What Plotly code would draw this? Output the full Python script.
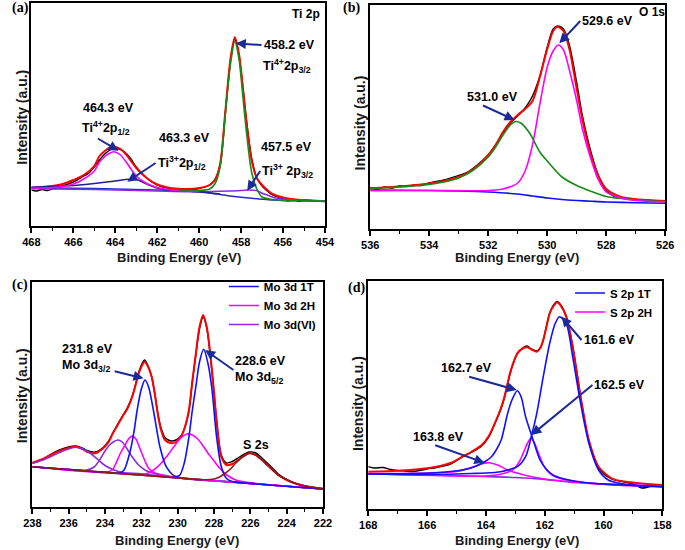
import plotly.graph_objects as go

# ======================= DATA (binding energy in eV, intensity in a.u.) =======================
# ---- (a) Ti 2p ----
a_exp_E = [468, 467.75, 467.5, 467.25, 467, 466.5, 466, 465.5, 465.25, 465, 464.75, 464.5, 464.25, 464.1, 463.9,
           463.75, 463.5, 463.25, 463, 462.75, 462.5, 462.25, 462, 461.5, 461, 460.5, 460, 459.5, 459.25, 459,
           458.75, 458.5, 458.3, 458.1, 457.9, 457.75, 457.5, 457.25, 457, 456.75, 456.5, 456, 455.75, 455.5,
           455.25, 455, 454.5, 454]
a_exp_I = [36, 35, 36.5, 35.5, 37, 40, 44, 50, 53, 59, 66, 72, 76, 77.7, 77, 76.5, 73, 67, 59, 53, 48, 44, 41, 38,
           37, 36.5, 37.5, 41, 46, 61, 113, 166, 186.7, 170, 136, 107, 68, 48, 40, 35, 31, 27, 25, 26.5, 24.5, 26,
           25, 24.5]
a_fit_E = [468, 467, 466.5, 466, 465.5, 465, 464.75, 464.5, 464.25, 464.05, 463.75, 463.5, 463.25, 463, 462.5, 462,
           461.5, 461, 460.5, 460, 459.5, 459.25, 459, 458.75, 458.5, 458.3, 458.1, 457.9, 457.75, 457.5, 457.25,
           457, 456.75, 456.5, 456, 455.5, 455, 454.5, 454]
a_fit_I = [38, 40, 42, 46, 51, 60, 70, 75, 78.5, 79.3, 77, 72, 65, 58, 48, 41.5, 38.5, 37.3, 37, 38, 41, 46, 62, 115,
           168, 188.7, 172, 135, 105, 66, 48, 41, 36, 32, 28.5, 26.7, 25.8, 25.3, 25]
a_bg_E = [468, 466, 464, 462, 461, 460, 459.5, 459, 458.5, 458, 457.5, 457, 456.5, 456, 455, 454]
a_bg_I = [38.5, 37.8, 37, 36, 35.3, 34, 33, 31.5, 30, 28.8, 27.7, 26.8, 26, 25.6, 25.2, 25]
a_ti3_32_E = [468, 466, 464, 462, 460.5, 459.5, 458.5, 458, 457.6, 457.2, 457, 456.7, 456.4, 456, 455, 454]
a_ti3_32_I = [37.3, 36.8, 36, 35, 34.3, 34.5, 35, 35.5, 36, 35, 32.7, 30.5, 28.3, 26.8, 25.6, 25.3]
a_ti3_12_E = [468, 467, 466, 465, 464, 463.5, 463.2, 463, 462.75, 462.5, 462, 461.5, 461, 460, 459]
a_ti3_12_I = [38.7, 39.5, 40.5, 42.5, 45, 46.5, 47, 46.5, 44.5, 42, 38, 36, 35.3, 34.2, 32]
a_ti4_12_E = [468, 467, 466.5, 466, 465.5, 465, 464.75, 464.5, 464.25, 464.05, 463.75, 463.5, 463.25, 463, 462.5,
              462, 461.5, 461, 460]
a_ti4_12_I = [38, 38.5, 39.5, 42, 47, 55, 64, 69.5, 73, 74.3, 71, 64.5, 57, 50, 42.5, 38.5, 36.5, 35.5, 34.5]
a_ti4_32_E = [461, 460, 459.5, 459.25, 459, 458.75, 458.5, 458.3, 458.1, 457.9, 457.75, 457.5, 457.25, 457, 456.5,
              456, 455, 454]
a_ti4_32_I = [35, 35.5, 37, 42, 59, 112, 163, 184.3, 167, 126, 95, 54, 37, 29, 26.5, 25.5, 25.2, 25]

# ---- (b) O 1s ----
b_exp_E = [536, 535.75, 535.5, 535.25, 535, 534.75, 534.5, 534.25, 534, 533.5, 533, 532.75, 532.5, 532, 531.75,
           531.5, 531.25, 531, 530.75, 530.5, 530.25, 530, 529.8, 529.65, 529.45, 529.25, 529, 528.8, 528.5,
           528.25, 528, 527.75, 527.5, 527, 526.5, 526]
b_exp_I = [41.5, 40, 42, 41, 43, 42.5, 44, 43.5, 46, 49, 53.5, 56, 61, 74, 84, 96, 106, 113, 121, 133, 153, 182,
           200, 203, 200, 184, 146, 112, 75, 52, 38, 33, 31, 29.5, 28.5, 28]
b_fit_E = [536, 535, 534, 533.5, 533, 532.5, 532, 531.75, 531.5, 531.25, 531, 530.75, 530.5, 530.25, 530, 529.8,
           529.65, 529.45, 529.25, 529, 528.8, 528.5, 528.25, 528, 527.5, 527, 526]
b_fit_I = [40.7, 42.5, 45.5, 48, 52, 60, 74, 84, 97, 107, 114, 120, 128, 152, 180, 198, 202.3, 198, 180, 140, 108,
           72, 52, 40, 32, 29.7, 28]
b_bg_E = [536, 534, 533, 532, 531, 530.5, 530, 529.5, 529, 528.5, 528, 527, 526]
b_bg_I = [39, 38.5, 38, 37, 35, 33, 31, 29.5, 28.5, 27.7, 27, 26.3, 25.7]
b_531_E = [536, 535, 534, 533.5, 533, 532.5, 532, 531.75, 531.5, 531.25, 531.1, 530.9, 530.6, 530.25, 530, 529.5,
           529, 528.5, 528, 527, 526]
b_531_I = [40.5, 42, 44.5, 47, 51, 59, 72, 82, 94, 104, 107.3, 106, 96, 77, 68, 52, 43.5, 37.5, 32.5, 29, 27.3]
b_529_E = [536, 534, 532, 531.5, 531, 530.75, 530.5, 530.25, 530, 529.8, 529.63, 529.45, 529.25, 529, 528.8, 528.5,
           528.25, 528, 527.5, 527, 526]
b_529_I = [38.3, 38.5, 38.5, 40, 46, 58, 84, 125, 162, 178, 184, 179, 159, 128, 99, 68, 48, 37, 31, 28.5, 27.3]

# ---- (c) Mo 3d ----
c_exp_E = [238, 237.5, 237, 236.5, 236, 235.6, 235.2, 235, 234.55, 234.1, 233.8, 233.57, 233.3, 233.04, 232.75,
           232.5, 232.3, 232.14, 231.95, 231.82, 231.65, 231.43, 231.25, 231.07, 230.9, 230.7, 230.36, 230.1,
           229.82, 229.6, 229.38, 229.2, 229.0, 228.8, 228.6, 228.4, 228.21, 228.0, 227.86, 227.6, 227.32, 227.0,
           226.6, 226.07, 225.7, 225.36, 224.9, 224.46, 224, 223.57, 223, 222]
c_exp_I = [44, 47, 52.5, 57, 60, 61, 58.5, 56.5, 55, 59.5, 66, 74, 83, 91, 100, 111, 124, 135, 144, 147, 142, 130,
           112, 91, 78, 69.5, 66, 67, 71, 80, 96, 124, 152, 178, 190, 179, 152, 114, 86, 52, 44, 45.5, 50, 55, 54,
           49, 41, 33, 27.5, 24, 21, 18.5]
c_fit_E = c_exp_E
c_fit_I = [44.3, 47.5, 52, 56, 59, 60.3, 57.5, 55.3, 53.7, 58.7, 65, 73.7, 82, 90.3, 99, 110.3, 123, 133.7, 142,
           145.3, 141, 130.3, 112, 90.3, 76, 67, 63.7, 65, 70.3, 80, 97, 125, 153.7, 180, 192, 180, 153.7, 115, 87,
           50.3, 42, 43, 48, 53.7, 52, 47, 39.5, 32, 27, 23.7, 21, 18]
c_bg_E = [238, 234, 230, 226, 222]
c_bg_I = [40.3, 34.7, 29.1, 23.6, 18]
c_1T_E = [238, 234, 233.2, 232.95, 232.6, 232.4, 232.23, 232.0, 231.8, 231.6, 231.34, 231.15, 230.98, 230.63,
          230.18, 229.9, 229.64, 229.38, 229.2, 229.0, 228.8, 228.57, 228.35, 228.13, 227.86, 227.6, 227.32, 227,
          226, 222]
c_1T_I = [40.3, 34.7, 34, 37, 57, 76, 97, 118, 127, 120, 97, 77, 60.3, 40.3, 31, 31.5, 43.7, 70.3, 96, 120.3, 145,
          157.7, 145, 120.3, 70.3, 40.3, 28.7, 25.5, 23.6, 18]
c_2Ha_E = [238, 234, 233.6, 233.4, 233.2, 232.95, 232.7, 232.5, 232.3, 232.05, 231.8, 231.6, 231.3, 231.07, 230.5,
           230, 226, 222]
c_2Ha_I = [40.3, 34.8, 37, 43.7, 52, 60.3, 68, 71, 68, 57, 46, 38.7, 34.5, 33, 31, 29.3, 23.6, 18]
c_2Hb_E = [238, 232, 231.6, 231.25, 230.9, 230.5, 230.1, 229.8, 229.5, 229.2, 228.9, 228.6, 228.3, 228.0, 227.7,
           227.3, 226.8, 226, 222]
c_2Hb_I = [40.3, 32.5, 34, 38, 44, 53, 63, 69.5, 73, 72, 68, 61, 53, 46, 39, 32, 27, 24.2, 18]
c_VIa_E = [238, 237.5, 237, 236.5, 236, 235.6, 235.2, 234.8, 234.4, 234, 233.5, 233, 232, 230, 226, 222]
c_VIa_I = [43.7, 46.5, 50.3, 54.5, 58, 59.7, 58, 53.7, 47.5, 41.5, 37, 34.5, 33.2, 29.1, 23.6, 18]
c_VIb_E = [238, 236, 235, 234.6, 234.3, 234, 233.75, 233.5, 233.3, 233.05, 232.8, 232.5, 232.15, 231.8, 231.4, 230,
           226, 222]
c_VIb_I = [40.3, 37.6, 37, 40, 47, 56, 62, 65.5, 67, 65, 58.5, 50, 42, 37, 34, 29.1, 23.6, 18]
c_S2s_E = [238, 230, 228.6, 228, 227.7, 227.4, 227.1, 226.8, 226.4, 226, 225.7, 225.36, 225, 224.5, 224, 223.5,
           223, 222]
c_S2s_I = [40.3, 29.1, 27.3, 28, 30, 33.5, 38, 44, 50.5, 53.7, 52, 47, 40.5, 32.5, 27.5, 23.5, 21, 18]

# ---- (d) S 2p ----
d_exp_E = [168, 167.8, 167.5, 167.25, 167, 166.75, 166.5, 166.25, 166, 165.68, 165.2, 164.8, 164.5, 164.14, 163.9,
           163.7, 163.5, 163.37, 163.15, 162.93, 162.75, 162.6, 162.45, 162.27, 162.15, 162.05, 161.95, 161.83,
           161.7, 161.58, 161.45, 161.27, 161.05, 160.9, 160.78, 160.5, 160.17, 159.73, 159.3, 159, 158.7, 158.4,
           158]
d_exp_I = [42.3, 41, 41.5, 39.5, 38.5, 38, 37.5, 38.5, 40, 41.5, 45, 52, 56.5, 63, 72, 85, 99, 111, 138, 155, 161,
           163, 160, 158, 161, 169, 182, 196, 204, 207.5, 204, 193, 163, 135, 112, 68, 41, 30, 27, 25, 21, 22.5, 23]
d_fit_E = [168, 167, 166, 165.68, 165.2, 164.8, 164.5, 164.14, 163.9, 163.7, 163.5, 163.37, 163.15, 162.93, 162.75,
           162.6, 162.45, 162.27, 162.15, 162.05, 161.95, 161.83, 161.7, 161.58, 161.45, 161.27, 161.05, 160.9,
           160.78, 160.5, 160.17, 159.73, 159.3, 158.5, 158]
d_fit_I = [37.3, 38.2, 40.8, 42.3, 46, 52.3, 57, 64, 73, 85.7, 100, 112.3, 139, 155.7, 160.5, 161.7, 159.5, 157.3,
           161, 169, 181, 195.7, 203, 206.7, 203, 192.3, 162.3, 135, 112.3, 69, 42.3, 30.7, 27.5, 25, 24]
d_bg_E = [168, 166, 164, 163, 162, 161.5, 161, 160, 159, 158]
d_bg_I = [35, 34, 32.5, 31.5, 29.5, 28, 26.5, 25, 23.8, 23]
d_1Ta_E = [168, 166, 165, 164.5, 164, 163.5, 163.2, 162.93, 162.65, 162.43, 162.27, 162.05, 161.83, 161.65, 161.5,
           161.27, 161.05, 160.78, 160.5, 160.17, 159.84, 159.5, 159.07, 158.5, 158]
d_1Ta_I = [35, 34.5, 35, 35.5, 36, 37.3, 39.5, 42.3, 52.3, 75.7, 95.7, 132.3, 165.7, 185, 192.3, 185.7, 152.3,
           105.7, 65.7, 39, 29, 26, 24, 23, 22.3]
d_1Tb_E = [168, 166.5, 165.7, 165.2, 164.8, 164.5, 164.25, 164, 163.81, 163.65, 163.48, 163.26, 163.1, 162.93,
           162.8, 162.65, 162.43, 162.16, 161.95, 161.72, 161.4, 161.05, 160.5, 159.5, 158]
d_1Tb_I = [35, 35.5, 36.3, 37.5, 39, 41, 44, 48, 52.3, 59, 69, 95.7, 110, 118.3, 112, 92.3, 72.3, 49, 40, 34, 30.5,
           28.3, 26, 24.2, 22.3]
d_2Ha_E = [168, 164, 163.37, 163.1, 162.98, 162.85, 162.71, 162.6, 162.47, 162.35, 162.21, 162.08, 161.94, 161.75,
           161.5, 161, 160.5, 159.5, 158]
d_2Ha_I = [35.5, 33, 35.7, 39, 42.3, 48, 57.3, 65, 70.7, 66, 55.7, 46, 39, 34, 30.7, 27.5, 25.8, 23.8, 22.3]
d_2Hb_E = [168, 166, 165, 164.58, 164.3, 164.1, 163.87, 163.6, 163.26, 162.82, 162.4, 162, 161, 160, 158]
d_2Hb_I = [35.5, 36, 37.5, 40.7, 43.5, 45.5, 46.3, 44, 39, 35, 32, 30, 27, 25, 22.8]

x_ranges = {'a': [468, 454], 'b': [536, 526], 'c': [238, 222], 'd': [168, 158]}

# ======================= STYLE / LAYOUT =======================
W, H = 685, 550
SANS = 'Liberation Sans, Arial, sans-serif'
SERIF = 'Liberation Serif, Times New Roman, serif'
BLACK, RED, GREEN, MAG = '#000000', '#ff0000', '#168c16', '#ff00ff'
BLUE, NAVY, PURPLE, BROWN = '#1010ff', '#1f1f90', '#8a2be2', '#8b1a1a'
BGBLUE, ARROW = '#2a2ac8', '#1a2a9a'

# frame boxes in pixels: left, right, top, bottom
PANELS = {
    'a': dict(n='', L=23, R=325, T=3, B=226),
    'b': dict(n='2', L=371.5, R=675, T=5, B=229),
    'c': dict(n='3', L=24, R=323, T=282, B=507),
    'd': dict(n='4', L=369.5, R=672, T=281, B=509),
}

fig = go.Figure()


def add(p, E, I, color, width=1.6, name=None, legend=None, rank=None, shape='spline'):
    n = PANELS[p]['n']
    fig.add_trace(go.Scatter(
        x=E, y=I, mode='lines', xaxis='x' + n, yaxis='y' + n,
        line=dict(color=color, width=width, shape=shape, smoothing=0.8),
        name=name or '', showlegend=name is not None,
        legend=legend or 'legend', legendrank=rank or 1000, hoverinfo='skip'))


# (a)
add('a', a_exp_E, a_exp_I, BLACK, 1.4)
add('a', a_fit_E, a_fit_I, RED, 2)
add('a', a_bg_E, a_bg_I, BGBLUE)
add('a', a_ti3_32_E, a_ti3_32_I, PURPLE)
add('a', a_ti3_12_E, a_ti3_12_I, NAVY)
add('a', a_ti4_12_E, a_ti4_12_I, MAG)
add('a', a_ti4_32_E, a_ti4_32_I, GREEN)
# (b)
add('b', b_exp_E, b_exp_I, BLACK, 1.4)
add('b', b_fit_E, b_fit_I, RED, 2)
add('b', b_bg_E, b_bg_I, BLUE)
add('b', b_531_E, b_531_I, GREEN)
add('b', b_529_E, b_529_I, MAG)
# (c)
add('c', c_exp_E, c_exp_I, BLACK, 1.4)
add('c', c_fit_E, c_fit_I, RED, 2)
add('c', c_bg_E, c_bg_I, BROWN, shape='linear')
add('c', c_VIa_E, c_VIa_I, PURPLE, name='Mo 3d(VI)', legend='legend', rank=3)
add('c', c_VIb_E, c_VIb_I, PURPLE)
add('c', c_2Ha_E, c_2Ha_I, MAG, name='Mo 3d 2H', legend='legend', rank=2)
add('c', c_2Hb_E, c_2Hb_I, MAG)
add('c', c_1T_E, c_1T_I, BLUE, name='Mo 3d 1T', legend='legend', rank=1)
add('c', c_S2s_E, c_S2s_I, BROWN)
# (d)
add('d', d_exp_E, d_exp_I, BLACK, 1.4)
add('d', d_fit_E, d_fit_I, RED, 2)
add('d', d_bg_E, d_bg_I, PURPLE)
add('d', d_2Hb_E, d_2Hb_I, MAG)
add('d', d_2Ha_E, d_2Ha_I, MAG, name='S 2p 2H', legend='legend2', rank=2)
add('d', d_1Tb_E, d_1Tb_I, BLUE)
add('d', d_1Ta_E, d_1Ta_I, BLUE, name='S 2p 1T', legend='legend2', rank=1)

layout = dict(width=W, height=H, margin=dict(l=0, r=0, t=0, b=0),
              paper_bgcolor='white', plot_bgcolor='white', showlegend=True,
              font=dict(family=SANS, color='black'))
for p, s in PANELS.items():
    n = s['n']
    layout['xaxis' + n] = dict(
        domain=[s['L'] / W, s['R'] / W], range=x_ranges[p], anchor='y' + n,
        showline=True, linecolor='black', linewidth=2, mirror=True,
        ticks='outside', ticklen=5, tickwidth=1.5, tickcolor='black', dtick=2, tick0=0,
        minor=dict(ticks='outside', ticklen=3, tickwidth=1, tickcolor='black', dtick=1),
        showgrid=False, zeroline=False,
        tickfont=dict(family=SANS, size=11, color='black', weight='bold'))
    layout['yaxis' + n] = dict(
        domain=[1 - s['B'] / H, 1 - s['T'] / H], range=[0, s['B'] - s['T']], anchor='x' + n,
        showline=True, linecolor='black', linewidth=2, mirror=True,
        ticks='', showticklabels=False, showgrid=False, zeroline=False)

LEGEND_STYLE = dict(xanchor='left', yanchor='top', bgcolor='rgba(0,0,0,0)', borderwidth=0,
                    font=dict(family=SANS, size=11.5, color='black', weight='bold'),
                    itemwidth=30, tracegroupgap=0, traceorder='normal')
layout['legend'] = dict(LEGEND_STYLE, x=221 / W, y=1 - 272 / H)
layout['legend2'] = dict(LEGEND_STYLE, x=577 / W, y=1 - 278.5 / H)
fig.update_layout(**layout)


def note(text, px, py, size=12.5, xanchor='left', family=SANS, angle=0, color='black', head=None):
    """Text whose anchor sits at pixel (px, py); with `head`, an arrow runs from the text to that pixel."""
    font = dict(family=family, size=size, color=color, weight='bold')
    if head is None:
        fig.add_annotation(xref='paper', yref='paper', x=px / W, y=1 - py / H, text=text,
                           showarrow=False, xanchor=xanchor, yanchor='middle', textangle=angle,
                           align='left', font=font)
    else:
        fig.add_annotation(xref='paper', yref='paper', x=head[0] / W, y=1 - head[1] / H, text=text,
                           showarrow=True, ax=px - head[0], ay=py - head[1], axref='pixel', ayref='pixel',
                           xanchor=xanchor, yanchor='middle', align='left', font=font,
                           arrowhead=2, arrowsize=1, arrowwidth=2, arrowcolor=ARROW,
                           standoff=0, startstandoff=0)


# panel letters
note('(a)', 1, 7.5, 14, family=SERIF)
note('(b)', 341.5, 7.5, 14, family=SERIF)
note('(c)', 1.5, 285, 14, family=SERIF)
note('(d)', 347, 288, 14, family=SERIF)

# axis titles
for cx, cy in [(174.5, 257), (523, 257), (173, 540), (522, 540)]:
    note('Binding Energy (eV)', cx, cy, 13, xanchor='center', color='#1a1a1a')
for cx, cy in [(12.5, 117.5), (361.5, 123), (13.5, 396), (359, 404)]:
    note('Intensity (a.u.)', cx, cy, 14, xanchor='center', angle=-90, color='#1a1a1a')

# (a) labels
note('Ti 2p', 289, 14, 12)
note('458.2 eV', 259, 45, head=(233.3, 43.3))
note('Ti<sup>4+</sup>2p<sub>3/2</sub>', 259, 66)
note('464.3 eV', 74, 108)
note('Ti<sup>4+</sup>2p<sub>1/2</sub>', 74, 128, head=(112.7, 150.7))
note('463.3 eV', 152, 138)
note('Ti<sup>3+</sup>2p<sub>1/2</sub>', 150, 163, head=(121.7, 181.7))
note('457.5 eV', 257, 147)
note('Ti<sup>3+</sup> 2p<sub>3/2</sub>', 258, 171, head=(245, 190.7))

# (b) labels
note('O 1s', 646, 12.5, 12)
note('529.6 eV', 587, 21, head=(566, 43.3))
note('531.0 eV', 470, 97, head=(520, 120))

# (c) labels
note('231.8 eV<br>Mo 3d<sub>3/2</sub>', 55, 358, head=(138.3, 378.3))
note('228.6 eV<br>Mo 3d<sub>5/2</sub>', 230, 370, head=(201.7, 350))
note('S 2s', 239, 445)

# (d) labels
note('161.6 eV', 588.3, 340, head=(568.3, 316.7))
note('162.7 eV', 444, 368.3, head=(522.3, 390))
note('162.5 eV', 598.3, 385, head=(537.3, 435))
note('163.8 eV', 416, 436.7, head=(489, 462.7))

# the page's default body margin would shift the 685x550 figure out of the window
fig.write_html('out.html', config={'displayModeBar': False},
               post_script="document.body.style.margin='0px';")
